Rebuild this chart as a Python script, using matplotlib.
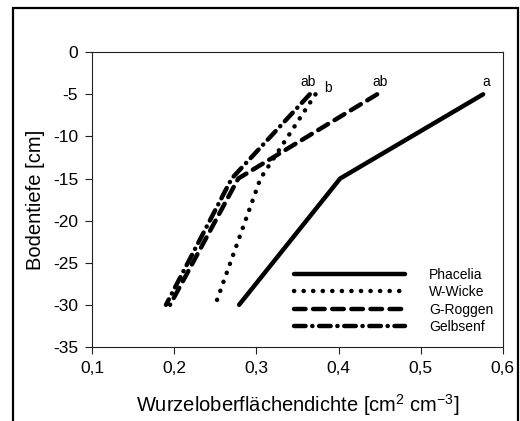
import matplotlib
matplotlib.use("Agg")
import matplotlib.pyplot as plt
from matplotlib.patches import Rectangle

plt.rcParams['font.family'] = ['Liberation Sans', 'DejaVu Sans']

depth = [-5, -15, -30]
phacelia = [0.576, 0.402, 0.279]
w_wicke = [0.372, 0.305, 0.250]
g_roggen = [0.447, 0.278, 0.195]
gelbsenf = [0.365, 0.270, 0.190]

series_names = ["Phacelia", "W-Wicke", "G-Roggen", "Gelbsenf"]
labels_text = ["a", "b", "ab", "ab"]

fig = plt.figure(figsize=(5.2, 4.21), dpi=100)
ax = fig.add_axes([0.177, 0.176, 0.790, 0.700])

lw = 3.2
ax.plot(phacelia, depth, color='black', lw=lw, solid_capstyle='round',
        solid_joinstyle='round', label=series_names[0])
ax.plot(w_wicke, depth, color='black', lw=lw, linestyle=(0, (0.05, 2.1)),
        dash_capstyle='round', label=series_names[1])
ax.plot(g_roggen, depth, color='black', lw=lw, linestyle=(0, (2.6, 1.7)),
        dash_capstyle='round', label=series_names[2])
ax.plot(gelbsenf, depth, color='black', lw=lw,
        linestyle=(0, (2.6, 1.5, 0.05, 1.5)),
        dash_capstyle='round', label=series_names[3])

# significance letters
ax.text(phacelia[0] + 0.004, depth[0] + 0.65, labels_text[0], ha='center', va='bottom', fontsize=10)
ax.text(w_wicke[0] + 0.015, depth[0] - 0.1, labels_text[1], ha='center', va='bottom', fontsize=10)
ax.text(g_roggen[0] + 0.003, depth[0] + 0.65, labels_text[2], ha='center', va='bottom', fontsize=10)
ax.text(gelbsenf[0] - 0.002, depth[0] + 0.65, labels_text[3], ha='center', va='bottom', fontsize=10)

ax.set_xlim(0.1, 0.6)
ax.set_ylim(-35, 0)
xt = [0.1, 0.2, 0.3, 0.4, 0.5, 0.6]
yt = [0, -5, -10, -15, -20, -25, -30, -35]
ax.set_xticks(xt)
ax.set_xticklabels([f"{v:.1f}".replace('.', ',') for v in xt], fontsize=12.5)
ax.set_yticks(yt)
ax.set_yticklabels([str(v) for v in yt], fontsize=12.5)
ax.tick_params(direction='out', length=5, width=0.8, color='#222222', pad=5)
for s in ax.spines.values():
    s.set_color('#222222')
    s.set_linewidth(0.8)

ax.set_xlabel(r"Wurzeloberflächendichte [cm$^{\mathregular{2}}$ cm$^{\mathregular{-3}}$]", fontsize=14.5, labelpad=12)
ax.set_ylabel("Bodentiefe [cm]", fontsize=14.5, labelpad=6)

leg = ax.legend(loc='lower right', bbox_to_anchor=(0.99, 0.025), frameon=False,
                fontsize=10, handlelength=8.0, handletextpad=1.7,
                labelspacing=0.25, borderaxespad=0)

fig.patches.append(Rectangle((0.025, -0.05), 0.971, 1.031, transform=fig.transFigure,
                             fill=False, edgecolor='black', linewidth=1.6))

fig.savefig("out.png", dpi=100)
